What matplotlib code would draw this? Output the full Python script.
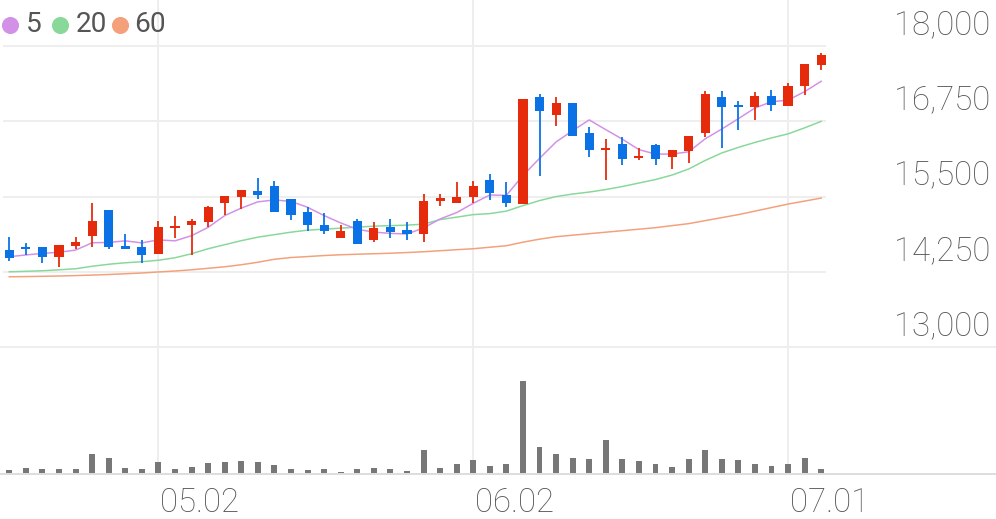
import numpy as np
import matplotlib
matplotlib.use("Agg")
import matplotlib.pyplot as plt
from matplotlib.lines import Line2D

# daily candles (price, KRW)
opens = [14610, 14670, 14660, 14500, 14680, 14850, 15280, 14680, 14670, 14550,
         14970, 15020, 15070, 15390, 15490, 15590, 15670, 15460, 15240, 15030,
         14810, 15100, 14780, 14990, 14950, 14870, 15420, 15390, 15490, 15770,
         15520, 15380, 17160, 16850, 17050, 16560, 16280, 16380, 16140, 16350,
         16150, 16250, 16560, 17160, 17020, 16990, 17170, 17000, 17340, 17680]
highs = [14820, 14730, 14670, 14700, 14820, 15390, 15280, 14880, 14780, 15100,
         15170, 15120, 15350, 15510, 15610, 15810, 15760, 15460, 15320, 15220,
         15030, 15130, 15070, 15130, 15070, 15550, 15550, 15740, 15760, 15880,
         15740, 17120, 17200, 17150, 17050, 16650, 16450, 16490, 16310, 16380,
         16280, 16500, 17260, 17260, 17080, 17240, 17270, 17390, 17700, 17880]
lows = [14430, 14530, 14390, 14330, 14630, 14660, 14630, 14630, 14400, 14550,
        14810, 14530, 15000, 15200, 15300, 15460, 15250, 15110, 14930, 14880,
        14810, 14720, 14750, 14810, 14770, 14740, 15350, 15390, 15390, 15450,
        15330, 15380, 15850, 16680, 16500, 16150, 15770, 16030, 16100, 16020,
        15950, 16050, 16490, 16300, 16610, 16770, 16920, 17000, 17180, 17600]
closes = [14480, 14630, 14500, 14700, 14740, 15090, 14660, 14630, 14530, 14990,
          15010, 15090, 15320, 15510, 15610, 15530, 15250, 15200, 15020, 14920,
          14920, 14720, 14970, 14910, 14870, 15420, 15470, 15500, 15680, 15560,
          15390, 17120, 16920, 17050, 16500, 16280, 16310, 16130, 16180, 16130,
          16280, 16500, 17210, 16990, 16990, 17170, 17020, 17340, 17700, 17850]

ma5 = [14500, 14530, 14555, 14575, 14610, 14732, 14738, 14764, 14730, 14780,
       14764, 14850, 14988, 15184, 15308, 15412, 15444, 15420, 15322, 15184,
       15062, 14956, 14910, 14888, 14878, 14978, 15128, 15234, 15388, 15526,
       15520, 15850, 16134, 16408, 16596, 16774, 16612, 16454, 16280, 16206,
       16206, 16244, 16460, 16622, 16794, 16972, 17076, 17102, 17244, 17416]
ma20 = [14250, 14258, 14267, 14283, 14300, 14342, 14375, 14400, 14417, 14442,
        14483, 14550, 14633, 14700, 14767, 14825, 14867, 14908, 14942, 14958,
        14975, 14992, 15008, 15017, 15025, 15042, 15117, 15158, 15200, 15217,
        15258, 15350, 15433, 15500, 15542, 15575, 15617, 15667, 15725, 15783,
        15858, 15958, 16100, 16225, 16317, 16400, 16475, 16542, 16642, 16750]
ma60 = [14167, 14170, 14175, 14180, 14187, 14195, 14205, 14217, 14230, 14247,
        14263, 14283, 14308, 14333, 14367, 14408, 14458, 14487, 14503, 14520,
        14533, 14542, 14550, 14558, 14570, 14583, 14600, 14617, 14633, 14658,
        14683, 14742, 14792, 14833, 14858, 14883, 14908, 14933, 14958, 14983,
        15017, 15050, 15100, 15150, 15200, 15258, 15317, 15375, 15425, 15475]

volume = [36000, 60000, 50000, 46000, 46000, 200000, 160000, 60000, 53000, 116000,
          46000, 70000, 106000, 120000, 126000, 123000, 93000, 46000, 40000, 50000,
          20000, 46000, 56000, 46000, 33000, 240000, 60000, 103000, 136000, 80000,
          100000, 933000, 266000, 200000, 163000, 153000, 343000, 150000, 130000, 103000,
          70000, 150000, 243000, 150000, 136000, 103000, 76000, 103000, 163000, 53000]

price_ticks = [18000, 16750, 15500, 14250, 13000]
date_labels = ["05.02", "06.02", "07.01"]
date_pos = [9, 28, 47]

UP = "#e52b0c"
DOWN = "#0b72e6"
GRID = "#eeeeee"
TXT = "#555555"
FONT = "Roboto"

W, H = 996, 519
fig = plt.figure(figsize=(W / 72, H / 72), dpi=72)
ax = fig.add_axes([0, 172 / H, 826 / W, 347 / H])
axv = fig.add_axes([0, 45 / H, 826 / W, 127 / H], sharex=ax)

x = np.arange(len(closes))
o = np.array(opens)
c = np.array(closes)
colors = [UP if c[i] >= o[i] else DOWN for i in range(len(c))]

# grid
for v in price_ticks[:-1]:
    ax.axhline(v, xmin=4 / 826, color=GRID, lw=2, zorder=0)
for p in date_pos:
    ax.axvline(p, color=GRID, lw=2, zorder=0)
    axv.axvline(p, color=GRID, lw=2, zorder=0)
fig.add_artist(Line2D([0, 1], [172 / H, 172 / H], transform=fig.transFigure, color=GRID, lw=2))
fig.add_artist(Line2D([0, 1], [45 / H, 45 / H], transform=fig.transFigure, color="#dddddd", lw=2))

# moving averages
ax.plot(x, ma60, color="#f4a07a", lw=1.5, zorder=2)
ax.plot(x, ma20, color="#88d89a", lw=1.5, zorder=2)
ax.plot(x, ma5, color="#d291e6", lw=1.5, zorder=2)

# candles
ax.vlines(x, lows, highs, colors=colors, lw=1.8, zorder=3)
body = np.maximum(np.abs(c - o), 30)
ax.bar(x, body, bottom=np.minimum(o, c), width=0.55, color=colors, zorder=4)

ax.set_xlim(-0.561, 49.29)
ax.set_ylim(13000, 18766.7)

# volume
axv.bar(x, volume, width=0.36, color="#777777")
axv.set_ylim(0, 1270000)

for a in (ax, axv):
    for s in a.spines.values():
        s.set_visible(False)
    a.set_xticks([])
    a.set_yticks([])
    a.patch.set_alpha(0)

for v in price_ticks:
    ax.annotate(f"{v:,}", xy=(1, v), xycoords=("axes fraction", "data"),
                xytext=(164, 12), textcoords="offset points", ha="right", va="baseline",
                fontsize=33, fontweight="light", color=TXT, family=FONT,
                annotation_clip=False)

for p, lab in zip(date_pos, date_labels):
    axv.annotate(lab, xy=(p, 0), xycoords=("data", "axes fraction"),
                 xytext=(2, -38), textcoords="offset points", ha="left", va="baseline",
                 fontsize=33, fontweight="light", color=TXT, family=FONT,
                 annotation_clip=False)

# legend
legend = [(10, "#d291e6", "5", 26), (60, "#88d89a", "20", 76), (120, "#f4a07a", "60", 134)]
for cx, col, lab, tx in legend:
    fig.add_artist(Line2D([cx / W], [1 - 25 / H], marker="o", ms=16, color=col,
                          transform=fig.transFigure))
    fig.text(tx / W, 1 - 25 / H, lab, va="center", ha="left", fontsize=28,
             color="#555555", family=FONT)

fig.savefig("out.png", dpi=72)
